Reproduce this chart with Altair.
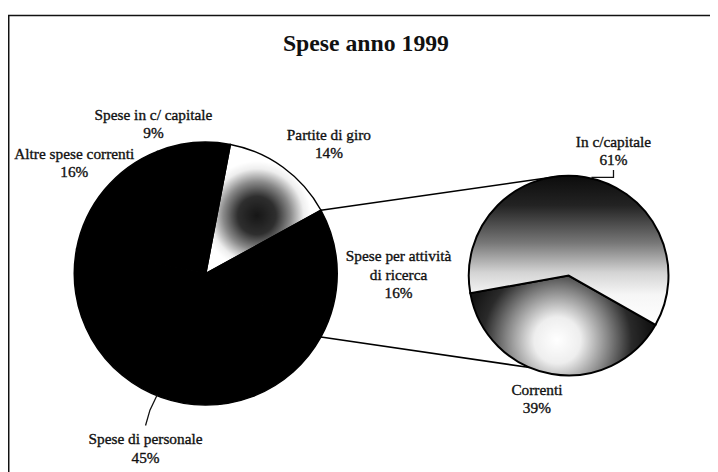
import math
import altair as alt
import pandas as pd

# ---------------- data ----------------
title_text = "Spese anno 1999"
main_categories = ["Partite di giro", "Spese per attività di ricerca", "Spese di personale",
                   "Altre spese correnti", "Spese in c/ capitale"]
main_labels = ["Partite di giro", "Spese per attività\ndi ricerca", "Spese di personale",
               "Altre spese correnti", "Spese in c/ capitale"]
main_values = [14, 16, 45, 16, 9]
sub_categories = ["Correnti", "In c/capitale"]
sub_labels = ["Correnti", "In c/capitale"]
sub_values = [39, 61]

# ---------------- layout (chart pixels) ----------------
W, H = 710, 464
MAIN_CX, MAIN_CY, MAIN_R = 200, 266, 133
SUB_CX, SUB_CY, SUB_R = 567, 268, 101
SPLIT_INDEX = 1            # slice of the main pie that is exploded into the second pie
SUB_START_DEG = 119.5
SUB_CONNECT_DEG = (355.4, 203.0)
MAIN_LABEL_PLACE = [(181, 7.5), (195, 0.3), (187, -0.8), (173.6, 0.4), (160, -13.9)]
SUB_LABEL_PLACE = [(129, 4.7), (134, 10.1)]
FONT = "Liberation Serif"
INK = "#111111"
DARK = "#000000"
LINE_H = 18.5


def pt(cx, cy, r, deg):
    a = math.radians(deg)
    return cx + r * math.sin(a), cy - r * math.cos(a)


main_total = sum(main_values)
sub_total = sum(sub_values)
main_start = 90 - 360 * (sum(main_values[:SPLIT_INDEX]) + main_values[SPLIT_INDEX] / 2) / main_total

main_df = pd.DataFrame({"category": main_categories, "value": main_values,
                        "idx": list(range(len(main_values)))})
sub_df = pd.DataFrame({"category": sub_categories, "value": sub_values,
                       "idx": list(range(len(sub_values)))})


def label_row(lab, pct, cx, cy, r, deg):
    text = f"{lab}\n{pct}%"
    n = text.count("\n") + 1
    x, y = pt(cx, cy, r, deg)
    top = y - (n - 1) * LINE_H / 2          # first line centre
    return {"x": x, "y": top, "text": text, "first": top, "last": top + (n - 1) * LINE_H}


# label positions derived from slice mid angles
lab_rows = []
cum = 0
main_mids = []
for i, (lab, v) in enumerate(zip(main_labels, main_values)):
    mid = main_start + 360 * (cum + v / 2) / main_total
    main_mids.append(mid)
    r, off = MAIN_LABEL_PLACE[i]
    lab_rows.append(label_row(lab, round(100 * v / main_total), MAIN_CX, MAIN_CY, r, mid + off))
    cum += v
cum = 0
sub_mids = []
for i, (lab, v) in enumerate(zip(sub_labels, sub_values)):
    mid = SUB_START_DEG + 360 * (cum + v / 2) / sub_total
    sub_mids.append(mid)
    r, off = SUB_LABEL_PLACE[i]
    lab_rows.append(label_row(lab, round(100 * v / sub_total), SUB_CX, SUB_CY, r, mid + off))
    cum += v
labels_df = pd.DataFrame(lab_rows)

# connector lines between the split slice and the secondary pie
a0 = main_start + 360 * sum(main_values[:SPLIT_INDEX]) / main_total
a1 = a0 + 360 * main_values[SPLIT_INDEX] / main_total
p0 = pt(MAIN_CX, MAIN_CY, MAIN_R, a0)
p1 = pt(MAIN_CX, MAIN_CY, MAIN_R, a1)
q0 = pt(SUB_CX, SUB_CY, SUB_R, SUB_CONNECT_DEG[0])
q1 = pt(SUB_CX, SUB_CY, SUB_R, SUB_CONNECT_DEG[1])
conn_df = pd.DataFrame({"x": [p0[0], p1[0]], "y": [p0[1], p1[1]],
                        "x2": [q0[0], q1[0]], "y2": [q0[1], q1[1]]})

# leader lines
pers = lab_rows[2]
e_pers = pt(MAIN_CX, MAIN_CY, MAIN_R - 1, main_mids[2] + 2)
capl = lab_rows[len(main_values) + 1]
e_cap = pt(SUB_CX, SUB_CY, SUB_R, sub_mids[1] + 3.5)
pers_end_y = pers["first"] - 14
lead_df = pd.DataFrame({
    "g": ["a", "a", "a", "b", "b", "b"],
    "o": [0, 1, 2, 0, 1, 2],
    "x": [e_pers[0], (e_pers[0] + pers["x"]) / 2 - 1.5, pers["x"], capl["x"], capl["x"], e_cap[0]],
    "y": [e_pers[1], (e_pers[1] + pers_end_y) / 2, pers_end_y,
          capl["last"] + 10, e_cap[1] - 1, e_cap[1] - 1],
})

# ---------------- fills ----------------
grad_partite = {"gradient": "radial", "x1": 0.45, "y1": 0.55, "r1": 0, "x2": 0.45, "y2": 0.55, "r2": 0.42,
                "stops": [{"offset": 0, "color": "#161616"}, {"offset": 0.35, "color": "#2e2e2e"},
                          {"offset": 0.62, "color": "#8a8a8a"}, {"offset": 0.86, "color": "#eeeeee"},
                          {"offset": 1, "color": "#ffffff"}]}
grad_correnti = {"gradient": "radial", "x1": 0.47, "y1": 0.58, "r1": 0, "x2": 0.47, "y2": 0.58, "r2": 0.5,
                 "stops": [{"offset": 0, "color": "#ffffff"}, {"offset": 0.25, "color": "#eeeeee"},
                           {"offset": 0.55, "color": "#858585"}, {"offset": 0.8, "color": "#2a2a2a"},
                           {"offset": 1, "color": "#141414"}]}
grad_capitale = {"gradient": "linear", "x1": 0, "y1": 0, "x2": 0, "y2": 1,
                 "stops": [{"offset": 0, "color": "#0c0c0c"}, {"offset": 0.2, "color": "#232323"},
                           {"offset": 0.45, "color": "#777777"}, {"offset": 0.65, "color": "#d4d4d4"},
                           {"offset": 0.8, "color": "#f6f6f6"}, {"offset": 1, "color": "#ffffff"}]}

# ---------------- layers ----------------
border = alt.Chart(pd.DataFrame({"a": [0]})).mark_rect(
    fill="transparent", stroke="#111", strokeWidth=1.5
).encode(x=alt.value(0.75), y=alt.value(5), x2=alt.value(900), y2=alt.value(900))

title = alt.Chart(pd.DataFrame({"t": [title_text]})).mark_text(
    font=FONT, fontSize=24, fontWeight="bold", color=INK, align="center", baseline="middle"
).encode(text="t:N", x=alt.value(362), y=alt.value(34))

main_pie = alt.Chart(main_df).mark_arc(radius=MAIN_R, stroke="#000", strokeWidth=1.5).encode(
    theta=alt.Theta("value:Q", stack=True,
                    scale=alt.Scale(range=[math.radians(main_start), math.radians(main_start) + 2 * math.pi])),
    order=alt.Order("idx:Q"),
    fill=alt.condition(alt.datum.category == main_categories[0], alt.value(grad_partite), alt.value(DARK)),
    x=alt.value(MAIN_CX), y=alt.value(MAIN_CY),
)

sub_pie = alt.Chart(sub_df).mark_arc(radius=SUB_R, stroke="#000", strokeWidth=2).encode(
    theta=alt.Theta("value:Q", stack=True,
                    scale=alt.Scale(range=[math.radians(SUB_START_DEG), math.radians(SUB_START_DEG) + 2 * math.pi])),
    order=alt.Order("idx:Q"),
    fill=alt.condition(alt.datum.category == sub_categories[0], alt.value(grad_correnti), alt.value(grad_capitale)),
    x=alt.value(SUB_CX), y=alt.value(SUB_CY),
)

conn = alt.Chart(conn_df).mark_rule(color="#000", strokeWidth=1.6).encode(
    x=alt.X("x:Q", scale=None, axis=None), y=alt.Y("y:Q", scale=None, axis=None),
    x2="x2:Q", y2="y2:Q",
)

leaders = alt.Chart(lead_df).mark_line(color="#111", strokeWidth=1.3).encode(
    x=alt.X("x:Q", scale=None, axis=None), y=alt.Y("y:Q", scale=None, axis=None),
    detail="g:N", order="o:Q",
)

labels = alt.Chart(labels_df).mark_text(
    font=FONT, fontSize=15.5, color=INK, stroke=INK, strokeWidth=0.35,
    align="center", baseline="middle", lineBreak="\n", lineHeight=LINE_H
).encode(
    x=alt.X("x:Q", scale=None, axis=None), y=alt.Y("y:Q", scale=None, axis=None), text="text:N",
)

chart = alt.layer(border, title, conn, main_pie, sub_pie, leaders, labels).resolve_scale(
    theta="independent"
).properties(
    width=W, height=H, autosize=alt.AutoSizeParams(type="none"), padding=0, background="white"
).configure_view(stroke=None)

chart.save("out.html", embed_options={"renderer": "svg", "actions": False})
